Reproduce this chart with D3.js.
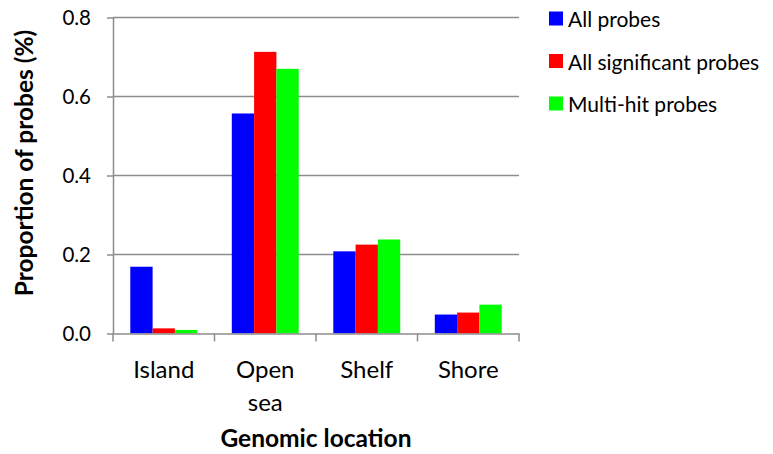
<!DOCTYPE html>
<html lang="en">
<head>
    <meta charset="UTF-8">
    <script src="https://cdn.jsdelivr.net/npm/d3@7"></script>
    <style>
        body{ margin:0; background:#fff; }
        svg text{ font-family:Lato, "Open Sans", sans-serif; fill:#000; }
        .axis path, .axis line{ stroke:#8c8c8c; stroke-width:1.5; }
        .grid line{ stroke:#8c8c8c; stroke-width:1.5; }
    </style>
    <title>Genomic location</title>
</head>
<body>
    <script>
        var categories = ["Island", "Open sea", "Shelf", "Shore"];
        var seriesNames = ["All probes", "All significant probes", "Multi-hit probes"];
        var colors = ["#0000ff", "#ff0000", "#00ff00"];
        var allProbes = [0.169, 0.557, 0.208, 0.048];
        var allSignificant = [0.013, 0.713, 0.225, 0.053];
        var multiHit = [0.009, 0.670, 0.238, 0.073];
        var yTicks = [0, 0.2, 0.4, 0.6, 0.8];

        var series = [allProbes, allSignificant, multiHit];

        var width = 773, height = 454;
        var plotLeft = 113, plotRight = 519, plotTop = 17.5, plotBottom = 333.5;

        var svg = d3.select("body").append("svg")
            .attr("width", width)
            .attr("height", height);

        var x0 = d3.scaleBand().domain(categories).range([plotLeft, plotRight]).padding(0);
        var x1 = d3.scaleBand().domain(d3.range(series.length))
            .range([17.3, x0.bandwidth() - 17.3]).padding(0);
        var y = d3.scaleLinear().domain([0, 0.8]).range([plotBottom, plotTop]);

        // gridlines
        svg.append("g").attr("class", "grid")
            .selectAll("line")
            .data(yTicks.slice(1))
            .enter().append("line")
            .attr("x1", plotLeft).attr("x2", plotRight)
            .attr("y1", function(d){ return y(d); })
            .attr("y2", function(d){ return y(d); });

        // bars
        var groups = svg.selectAll(".cat")
            .data(categories)
            .enter().append("g")
            .attr("transform", function(d){ return "translate(" + x0(d) + ",0)"; });
        groups.selectAll("rect")
            .data(function(d, i){ return series.map(function(s, j){ return {j: j, v: s[i]}; }); })
            .enter().append("rect")
            .attr("x", function(d){ return x1(d.j); })
            .attr("width", x1.bandwidth())
            .attr("y", function(d){ return y(d.v); })
            .attr("height", function(d){ return plotBottom - y(d.v); })
            .attr("fill", function(d){ return colors[d.j]; });

        // y axis
        var yAxis = svg.append("g").attr("class", "axis")
            .attr("transform", "translate(" + plotLeft + ",0)")
            .call(d3.axisLeft(y).tickValues(yTicks).tickFormat(d3.format(".1f")).tickSize(6).tickSizeOuter(0).tickPadding(16));
        yAxis.selectAll("text").style("font-size", "20.5px").attr("dy", "0.36em");

        // x axis
        var xAxis = svg.append("g").attr("class", "axis")
            .attr("transform", "translate(0," + plotBottom + ")")
            .call(d3.axisBottom(x0).tickSize(0).tickSizeOuter(0).tickFormat(""));
        xAxis.selectAll(".tick").remove();
        xAxis.selectAll(".sep")
            .data(d3.range(categories.length + 1))
            .enter().append("line")
            .attr("x1", function(i){ return plotLeft + i * x0.step(); })
            .attr("x2", function(i){ return plotLeft + i * x0.step(); })
            .attr("y1", 0).attr("y2", 8);

        // category labels (wrapped)
        var labelLines = { "Open sea": ["Open", "sea"] };
        svg.selectAll(".xlab")
            .data(categories)
            .enter().append("text")
            .attr("text-anchor", "middle")
            .style("font-size", "24px")
            .each(function(d){
                var lines = labelLines[d] || [d];
                var t = d3.select(this);
                lines.forEach(function(l, k){
                    t.append("tspan")
                        .attr("x", x0(d) + x0.bandwidth() / 2)
                        .attr("y", 378 + k * 33)
                        .text(l);
                });
            });

        // axis titles
        svg.append("text")
            .attr("x", (plotLeft + plotRight) / 2).attr("y", 447)
            .attr("text-anchor", "middle")
            .style("font-size", "24.5px").style("font-weight", "bold")
            .text("Genomic location");
        svg.append("text")
            .attr("transform", "translate(33,163) rotate(-90)")
            .attr("text-anchor", "middle")
            .style("font-size", "24.5px").style("font-weight", "bold")
            .text("Proportion of probes (%)");

        // legend
        var legend = svg.selectAll(".leg")
            .data(seriesNames)
            .enter().append("g")
            .attr("transform", function(d, i){ return "translate(549," + (11.5 + i * 42.5) + ")"; });
        legend.append("rect")
            .attr("width", 14).attr("height", 14)
            .attr("fill", function(d, i){ return colors[i]; });
        legend.append("text")
            .attr("x", 19).attr("y", 15.5)
            .style("font-size", "21px")
            .text(function(d){ return d; });
    </script>
</body>
</html>
